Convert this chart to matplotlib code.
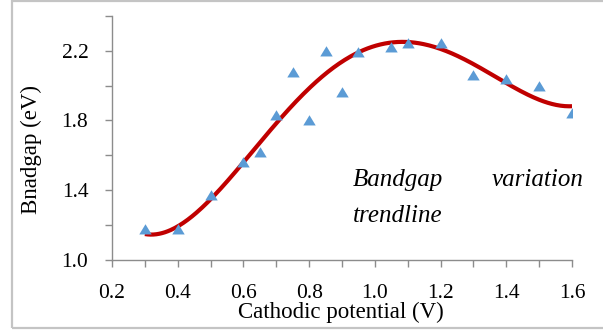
import numpy as np
import matplotlib
matplotlib.use("Agg")
import matplotlib.pyplot as plt
from matplotlib.patches import Rectangle
from matplotlib.ticker import MultipleLocator, FixedLocator

# Measured band gap against cathodic deposition potential
potential = [0.30, 0.40, 0.50, 0.60, 0.65, 0.70, 0.75, 0.80, 0.85, 0.90,
             0.95, 1.05, 1.10, 1.20, 1.30, 1.40, 1.50, 1.60]
bandgap = [1.18, 1.18, 1.37, 1.56, 1.62, 1.83, 2.08, 1.80, 2.20, 1.96,
           2.19, 2.22, 2.245, 2.245, 2.06, 2.04, 2.00, 1.84]

# Samples along the band gap trendline
trend_x = [0.30, 0.41, 0.50, 0.59, 0.68, 0.77, 0.86, 0.96, 1.11, 1.21,
           1.31, 1.41, 1.51, 1.60]
trend_y = [1.153, 1.20, 1.345, 1.527, 1.747, 1.939, 2.092, 2.188, 2.236,
           2.207, 2.11, 2.006, 1.92, 1.875]

x_tick_labels = ["0.2", "0.4", "0.6", "0.8", "1.0", "1.2", "1.4", "1.6"]
y_tick_labels = ["1.0", "1.4", "1.8", "2.2"]

W, H = 603, 333
plt.rcParams["font.family"] = ["Liberation Serif", "DejaVu Serif"]
fig = plt.figure(figsize=(W / 100, H / 100), dpi=100)

# outer chart frame
fig.patches.append(Rectangle((12 / W, 1 - 328 / H), 1.0, (328 - 1) / H,
                             transform=fig.transFigure, fill=False,
                             edgecolor="#c4c4c4", linewidth=1.6))

ax = fig.add_axes([112 / W, 1 - 260 / H, 460 / W, (260 - 15.7) / H])

# smooth polynomial trendline through the trend samples
coef = np.polyfit(trend_x, trend_y, 4)
xs = np.linspace(min(trend_x), max(trend_x), 300)
ax.plot(xs, np.polyval(coef, xs), color="#c00000", linewidth=3.0,
        solid_capstyle="butt", zorder=2)

tri = [(-1.0, -0.8), (1.0, -0.8), (0.0, 0.85), (-1.0, -0.8)]
ax.scatter(potential, bandgap, marker=tri, s=80, color="#5b9bd5",
           linewidths=0, zorder=3)

ax.set_xlim(0.2, 1.6)
ax.set_ylim(1.0, 2.4)
ax.xaxis.set_major_locator(FixedLocator([float(t) for t in x_tick_labels]))
ax.set_xticklabels(x_tick_labels)
ax.xaxis.set_minor_locator(MultipleLocator(0.1))
ax.yaxis.set_major_locator(FixedLocator([float(t) for t in y_tick_labels]))
ax.set_yticklabels(y_tick_labels)
ax.yaxis.set_minor_locator(MultipleLocator(0.2))

spine_col = "#8c8c8c"
for side in ("top", "right"):
    ax.spines[side].set_visible(False)
for side in ("left", "bottom"):
    ax.spines[side].set_color(spine_col)
    ax.spines[side].set_linewidth(1.0)
ax.tick_params(which="both", direction="out", color=spine_col, length=5,
               width=1.0, labelsize=15.5, labelcolor="black")
ax.tick_params(axis="x", which="major", pad=12.5)
ax.tick_params(axis="y", which="major", pad=12)

ax.set_xlabel("Cathodic potential (V)", fontsize=16.5, va="top")
ax.set_ylabel("Bnadgap (eV)", fontsize=16.5)
ax.xaxis.set_label_coords(0.497, (260 - 302) / 244.3)
ax.yaxis.set_label_coords((42 - 112) / 460, (260 - 150) / 244.3)

def px(x, y):
    return x / W, 1 - y / H

kw = dict(fontsize=18, style="italic", transform=fig.transFigure,
          va="baseline")
fig.text(*px(353, 186), "Bandgap", ha="left", **kw)
fig.text(*px(584, 186), "variation", ha="right", **kw)
fig.text(*px(353, 221.5), "trendline", ha="left", **kw)

fig.savefig("out.png", dpi=100)
